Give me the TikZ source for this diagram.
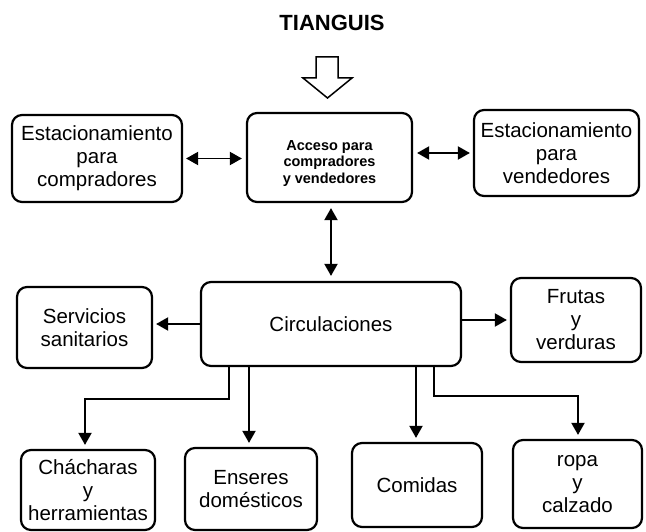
\documentclass[tikz,border=0pt]{standalone}
\usepackage{fontspec}
\setmainfont{Liberation Sans}
\usetikzlibrary{arrows.meta,calc}
\begin{document}
\begin{tikzpicture}[x=1pt,y=-1pt,
  box/.style={draw,line width=2.2pt,rounded corners=10pt,align=center,
    font=\fontsize{20.5}{23}\selectfont,inner sep=0pt},
  arr/.style={line width=1.9pt,-{Triangle[length=12pt,width=13pt]}},
  dbl/.style={line width=1.9pt,{Triangle[length=12pt,width=13pt]}-{Triangle[length=12pt,width=13pt]}}]
\useasboundingbox (0,0) rectangle (646,532);

% title and entrance arrow
\node[font=\fontsize{22}{24}\bfseries] (title) at (332,23) {TIANGUIS};
\draw[line width=1.5pt,line join=miter]
  (316,57) -- (338,57) -- (338,78) -- (352,78) -- (327.5,98) -- (303,78) -- (316,78) -- cycle;

% top row
\node[box,minimum width=170pt,minimum height=87pt] (estc) at (97,158.5)
  {Estacionamiento\\para\\compradores};
\node[box,minimum width=165pt,minimum height=89pt,
  font=\fontsize{14.5}{16.5}\bfseries\selectfont] (acceso) at (329.5,157.5)
  {\raisebox{-6pt}[\height][\depth]{\begin{tabular}{@{}c@{}}Acceso para\\compradores\\y vendedores\end{tabular}}};
\node[box,minimum width=165pt,minimum height=86pt] (estv) at (556.5,153)
  {Estacionamiento\\para\\vendedores};

% middle row
\node[box,minimum width=260pt,minimum height=84pt] (circ) at (331,324) {Circulaciones};
\node[box,minimum width=135pt,minimum height=81pt] (serv) at (84.5,327.5) {Servicios\\sanitarios};
\node[box,minimum width=130pt,minimum height=84pt] (frutas) at (576,320) {Frutas\\y\\verduras};

% bottom row
\node[box,minimum width=134pt,minimum height=80pt] (chach) at (88,490) {Chácharas\\y\\herramientas};
\node[box,minimum width=132pt,minimum height=82pt] (enseres) at (251,489) {Enseres\\domésticos};
\node[box,minimum width=130pt,minimum height=84pt] (comidas) at (417,485) {Comidas};
\node[box,minimum width=129pt,minimum height=88pt] (ropa) at (577.5,484) {ropa\\y\\calzado};

% connectors
\draw[dbl] ([xshift=3]estc.east) -- ([xshift=-4]estc.east -| acceso.west);
\draw[dbl] ([xshift=4]estv.west -| acceso.east) -- ([xshift=-3]estv.west);
\draw[dbl] ([yshift=-5]circ.north |- acceso.south) -- ([yshift=5]circ.north);
\draw[arr] (circ.west) -- ([xshift=3]circ.west -| serv.east);
\draw[arr] (circ.east |- frutas.west) -- ([xshift=-3]frutas.west);

\coordinate (k1) at (85,399);
\coordinate (k2) at (578,396);
\draw[arr] ([xshift=-102]circ.south) |- (k1) -- ([yshift=4]k1 |- chach.north);
\draw[arr] ([xshift=-82]circ.south) -- ([xshift=-82,yshift=4]circ.south |- enseres.north);
\draw[arr] ([xshift=85]circ.south) -- ([xshift=85,yshift=4]circ.south |- comidas.north);
\draw[arr] ([xshift=103]circ.south) |- (k2) -- ([yshift=4]k2 |- ropa.north);
\end{tikzpicture}
\end{document}
